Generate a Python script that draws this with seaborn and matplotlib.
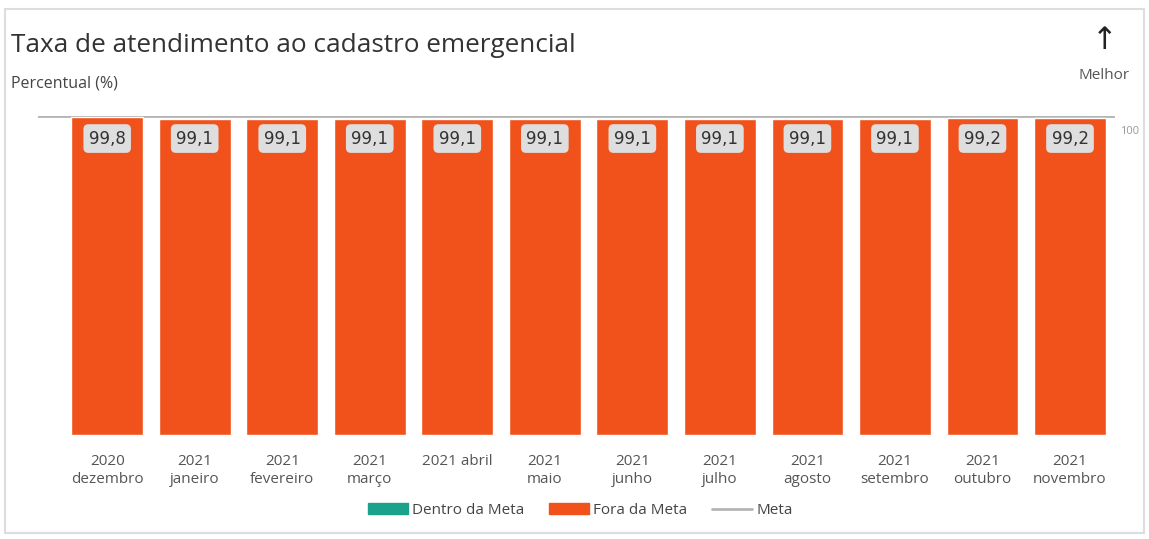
import matplotlib
matplotlib.use('Agg')
import matplotlib.pyplot as plt
import seaborn as sns
import pandas as pd
from matplotlib.patches import Patch, Rectangle
from matplotlib.lines import Line2D

meses = ['2020\ndezembro', '2021\njaneiro', '2021\nfevereiro', '2021\nmarço', '2021 abril',
         '2021\nmaio', '2021\njunho', '2021\njulho', '2021\nagosto', '2021\nsetembro',
         '2021\noutubro', '2021\nnovembro']
valores = [99.8, 99.1, 99.1, 99.1, 99.1, 99.1, 99.1, 99.1, 99.1, 99.1, 99.2, 99.2]
meta = 100

cor_dentro = '#1aa38a'
cor_fora = '#f1511b'
cor_meta = '#b4b4b4'

df = pd.DataFrame({'mes': meses, 'valor': valores})
df['status'] = ['Dentro da Meta' if v >= meta else 'Fora da Meta' for v in df['valor']]

sns.set_theme(style='white')
plt.rcParams['font.family'] = ['Open Sans', 'DejaVu Sans']

fig = plt.figure(figsize=(11.49, 5.39), dpi=100)
ax = fig.add_axes([0.0331, 0.193, 0.937, 0.592])

sns.barplot(data=df, x='mes', y='valor', hue='status',
            palette={'Dentro da Meta': cor_dentro, 'Fora da Meta': cor_fora},
            width=0.82, dodge=False, legend=False, ax=ax, saturation=1)

ax.axhline(meta, color=cor_meta, lw=2, zorder=0.5)
ax.set_ylim(0, 100)
ax.set_xlim(-0.79, 11.51)
ax.set_xlabel('')
ax.set_ylabel('')
ax.set_yticks([])
sns.despine(ax=ax, left=True, bottom=True, right=True, top=True)
ax.tick_params(axis='x', length=0, pad=14, labelsize=11, labelcolor='#555555')

for i, v in enumerate(valores):
    ax.text(i, 92.9, f'{v:.1f}'.replace('.', ','), ha='center', va='center',
            fontsize=12, color='#333333', family=['DejaVu Sans'],
            bbox=dict(boxstyle='round,pad=0.32,rounding_size=0.3', fc='#dedede', ec='none'))

ax.text(1.005, 0.95, '100', transform=ax.transAxes, fontsize=8, color='#999999', va='center')

fig.text(0.010, 0.915, 'Taxa de atendimento ao cadastro emergencial', fontsize=18.8,
         color='#333333', va='center')
fig.text(0.010, 0.845, 'Percentual (%)', fontsize=11.5, color='#444444', va='center')
fig.text(0.961, 0.925, '↑', fontsize=22, color='#222222', ha='center', va='center',
         family=['DejaVu Sans'])
fig.text(0.961, 0.86, 'Melhor', fontsize=11, color='#555555', ha='center', va='center')

handles = [Patch(color=cor_dentro, label='Dentro da Meta'),
           Patch(color=cor_fora, label='Fora da Meta'),
           Line2D([0], [0], color=cor_meta, lw=2, label='Meta')]
fig.legend(handles=handles, loc='center', bbox_to_anchor=(0.505, 0.053), ncol=3,
           frameon=False, fontsize=11, handlelength=2.6, handleheight=0.7,
           columnspacing=1.6, handletextpad=0.3, labelcolor='#444444')

fig.patches.append(Rectangle((0.004, 0.012), 0.992, 0.972, transform=fig.transFigure,
                             fill=False, ec='#dddddd', lw=1.5))

fig.savefig('out.png', dpi=100)
